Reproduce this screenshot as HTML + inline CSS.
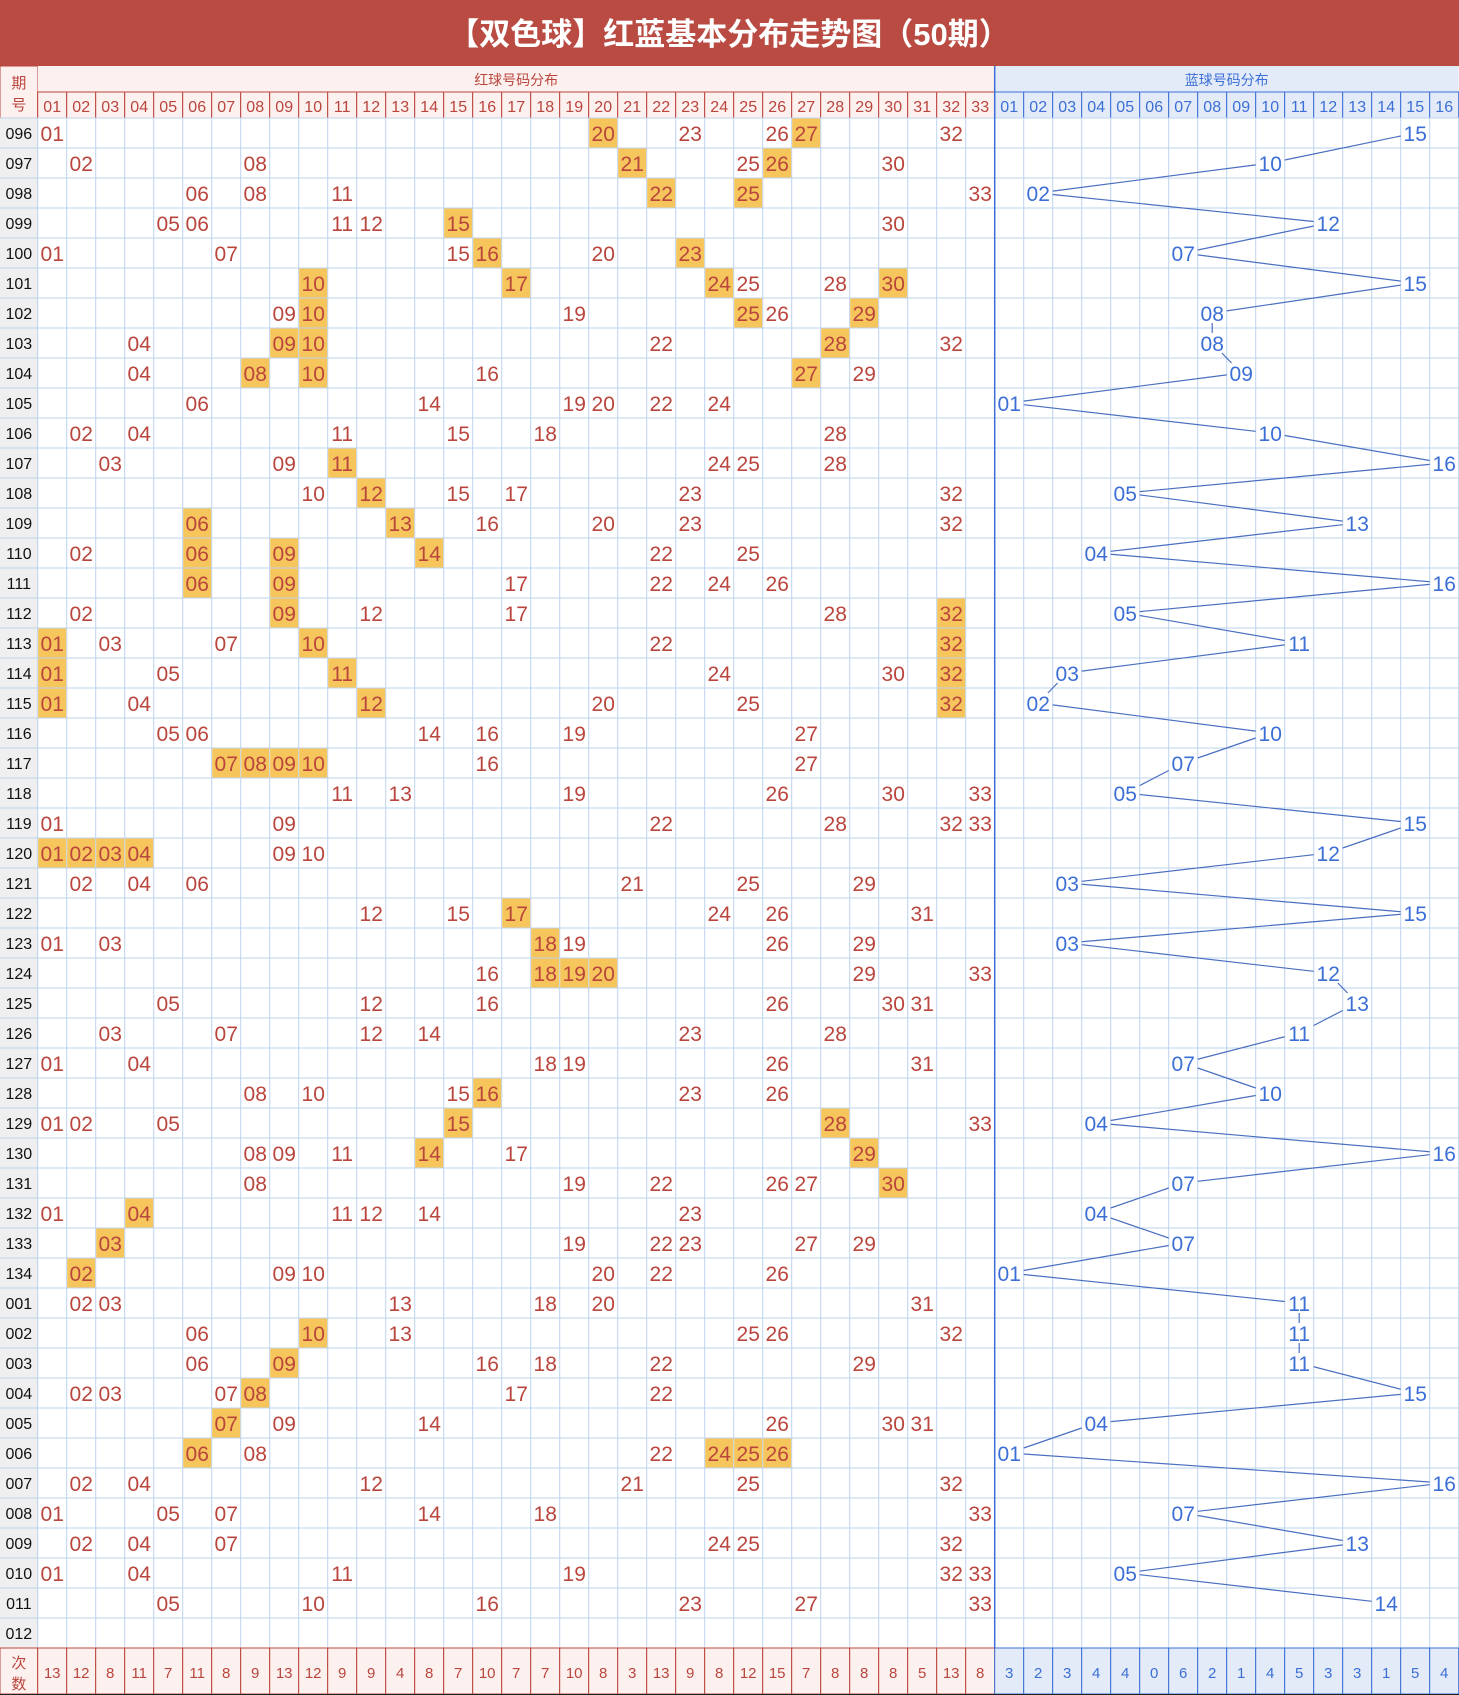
<!DOCTYPE html>
<html><head><meta charset="utf-8">
<style>
html,body{margin:0;padding:0;background:#fff;}
svg{display:block;font-family:"Liberation Sans","Noto Sans CJK SC",sans-serif;}
</style></head>
<body>
<svg id="chart" width="1459" height="1695" viewBox="0 0 1459 1695" xmlns="http://www.w3.org/2000/svg">
<rect x="0" y="0" width="1459" height="66" fill="#b94b43"/>
<text x="729" y="45" text-anchor="middle" font-size="31" font-weight="bold" fill="#fff">【双色球】红蓝基本分布走势图（50期）</text>
<g id="layer"></g>
</svg>
<script>
const periods = ["096","097","098","099","100","101","102","103","104","105","106","107","108","109","110","111","112","113","114","115","116","117","118","119","120","121","122","123","124","125","126","127","128","129","130","131","132","133","134","001","002","003","004","005","006","007","008","009","010","011","012"];
const redDraws = [
"01 20* 23 26 27* 32","02 08 21* 25 26* 30","06 08 11 22* 25* 33","05 06 11 12 15* 30","01 07 15 16* 20 23*",
"10* 17* 24* 25 28 30*","09 10* 19 25* 26 29*","04 09* 10* 22 28* 32","04 08* 10* 16 27* 29","06 14 19 20 22 24",
"02 04 11 15 18 28","03 09 11* 24 25 28","10 12* 15 17 23 32","06* 13* 16 20 23 32","02 06* 09* 14* 22 25",
"06* 09* 17 22 24 26","02 09* 12 17 28 32*","01* 03 07 10* 22 32*","01* 05 11* 24 30 32*","01* 04 12* 20 25 32*",
"05 06 14 16 19 27","07* 08* 09* 10* 16 27","11 13 19 26 30 33","01 09 22 28 32 33","01* 02* 03* 04* 09 10",
"02 04 06 21 25 29","12 15 17* 24 26 31","01 03 18* 19 26 29","16 18* 19* 20* 29 33","05 12 16 26 30 31",
"03 07 12 14 23 28","01 04 18 19 26 31","08 10 15 16* 23 26","01 02 05 15* 28* 33","08 09 11 14* 17 29*",
"08 19 22 26 27 30*","01 04* 11 12 14 23","03* 19 22 23 27 29","02* 09 10 20 22 26","02 03 13 18 20 31",
"06 10* 13 25 26 32","06 09* 16 18 22 29","02 03 07 08* 17 22","07* 09 14 26 30 31","06* 08 22 24* 25* 26*",
"02 04 12 21 25 32","01 05 07 14 18 33","02 04 07 24 25 32","01 04 11 19 32 33","05 10 16 23 27 33",""];
const blueDraws = [15,10,2,12,7,15,8,8,9,1,10,16,5,13,4,16,5,11,3,2,10,7,5,15,12,3,15,3,12,13,11,7,10,4,16,7,4,7,1,11,11,11,15,4,1,16,7,13,5,14,null];
const redCounts = [13,12,8,11,7,11,8,9,13,12,9,9,4,8,7,10,7,7,10,8,3,13,9,8,12,15,7,8,8,8,5,13,8];
const blueCounts = [3,2,3,4,4,0,6,2,1,4,5,3,3,1,5,4];

const NS="http://www.w3.org/2000/svg";
const layer=document.getElementById('layer');
const X0=37.7, CW=29, Y0=118, RH=30, H1=66, H2=92, FOOT=1648, BX=X0+33*CW;
const RED="#b9453d", BLUE="#3b6fd6", GRID="#bcd3ee";
function el(tag,attrs,parent){const e=document.createElementNS(NS,tag);for(const k in attrs)e.setAttribute(k,attrs[k]);(parent||layer).appendChild(e);return e;}
function colX(i){return X0+i*CW;}
function bcolX(i){return BX+i*CW;}
function rowY(r){return Y0+r*RH;}
function pad(n){return (n<10?"0":"")+n;}

let e;
e=el('rect',{x:0,y:H1,width:X0,height:Y0-H1,fill:"#fdf1ef",stroke:RED,"stroke-width":1});


e=el('text',{x:X0/2,y:88,"text-anchor":"middle","font-size":15,fill:RED});e.textContent="期";


e=el('text',{x:X0/2,y:110,"text-anchor":"middle","font-size":15,fill:RED});e.textContent="号";


e=el('rect',{x:X0,y:H1,width:33*CW,height:H2-H1,fill:"#fdf1ef"});


e=el('text',{x:X0+33*CW/2,y:85,"text-anchor":"middle","font-size":14,fill:RED});e.textContent="红球号码分布";


e=el('rect',{x:BX,y:H1,width:16*CW,height:H2-H1,fill:"#e4ebf8"});


e=el('text',{x:BX+16*CW/2,y:85,"text-anchor":"middle","font-size":14,fill:BLUE});e.textContent="蓝球号码分布";



e=el('rect',{x:0,y:Y0,width:X0,height:FOOT-Y0,fill:"#efefef"});



for(let i=0;i<33;i++){
  e=el('rect',{x:colX(i),y:H2,width:CW,height:Y0-H2,fill:"#fdf1ef",stroke:RED,"stroke-width":1});
  
  
  e=el('text',{x:colX(i)+CW/2,y:112,"text-anchor":"middle","font-size":16,fill:RED});e.textContent=pad(i+1);
  
  
}
for(let i=0;i<16;i++){
  e=el('rect',{x:bcolX(i),y:H2,width:CW,height:Y0-H2,fill:"#e4ebf8",stroke:BLUE,"stroke-width":1});
  
  
  e=el('text',{x:bcolX(i)+CW/2,y:112,"text-anchor":"middle","font-size":16,fill:BLUE});e.textContent=pad(i+1);
  
  
}

const g=el('g',{stroke:GRID,"stroke-width":1});


for(let r=0;r<=periods.length;r++){el('line',{x1:0,y1:rowY(r),x2:1459,y2:rowY(r)},g);}
for(let i=0;i<=49;i++){el('line',{x1:colX(i),y1:Y0,x2:colX(i),y2:FOOT},g);}

redDraws.forEach((s,r)=>{
  e=el('text',{x:X0/2,y:rowY(r)+21,"text-anchor":"middle","font-size":16,fill:"#111"});e.textContent=periods[r];
  
  
  if(!s)return;
  s.split(" ").forEach(tok=>{
    const hl=tok.endsWith("*");const n=parseInt(tok);
    const x=colX(n-1), y=rowY(r);
    if(hl){
      e=el('rect',{x:x+0.5,y:y+0.5,width:CW-1,height:RH-1,fill:"#f6c65c"});
      
      
    }
    e=el('text',{x:x+CW/2,y:y+23,"text-anchor":"middle","font-size":21,fill:RED});e.textContent=pad(n);
    
    
  });
});

e=el('line',{x1:BX,y1:H1,x2:BX,y2:FOOT,stroke:BLUE,"stroke-width":1.5});



// blue trend line: center to center, clipped by label boxes
const HW=14.5, HH=10;
function clipT(dx,dy){
  let t=1;
  if(Math.abs(dx)>0)t=Math.min(t,HW/Math.abs(dx));
  if(Math.abs(dy)>0)t=Math.min(t,HH/Math.abs(dy));
  return t;
}
const tl=el('g',{stroke:"#4a6fc0","stroke-width":1.2,fill:"none"});


for(let r=0;r<blueDraws.length-1;r++){
  const a=blueDraws[r], b=blueDraws[r+1];
  if(a==null||b==null)continue;
  const xa=bcolX(a-1)+CW/2, ya=rowY(r)+RH/2, xb=bcolX(b-1)+CW/2, yb=rowY(r+1)+RH/2;
  const dx=xb-xa, dy=yb-ya, t=clipT(dx,dy);
  e=el('line',{x1:xa+dx*t,y1:ya+dy*t,x2:xb-dx*t,y2:yb-dy*t},tl);
  
  
}
blueDraws.forEach((n,r)=>{
  if(n==null)return;
  e=el('text',{x:bcolX(n-1)+CW/2,y:rowY(r)+23,"text-anchor":"middle","font-size":21,fill:BLUE});e.textContent=pad(n);
  
  
});

e=el('rect',{x:0,y:FOOT,width:X0,height:1694-FOOT,fill:"#fdf1ef",stroke:RED});


e=el('text',{x:X0/2,y:FOOT+20,"text-anchor":"middle","font-size":15,fill:RED});e.textContent="次";


e=el('text',{x:X0/2,y:FOOT+41,"text-anchor":"middle","font-size":15,fill:RED});e.textContent="数";


redCounts.forEach((c,i)=>{
  e=el('rect',{x:colX(i),y:FOOT,width:CW,height:1694-FOOT,fill:"#fdf1ef",stroke:RED});
  
  
  e=el('text',{x:colX(i)+CW/2,y:FOOT+30,"text-anchor":"middle","font-size":15,fill:RED});e.textContent=c;
  
  
});
blueCounts.forEach((c,i)=>{
  e=el('rect',{x:bcolX(i),y:FOOT,width:CW,height:1694-FOOT,fill:"#e4ebf8",stroke:BLUE});
  
  
  e=el('text',{x:bcolX(i)+CW/2,y:FOOT+30,"text-anchor":"middle","font-size":15,fill:BLUE});e.textContent=c;
  
  
});
e=el('line',{x1:0,y1:1694.5,x2:1459,y2:1694.5,stroke:"#222","stroke-width":1});


</script>
</body></html>
